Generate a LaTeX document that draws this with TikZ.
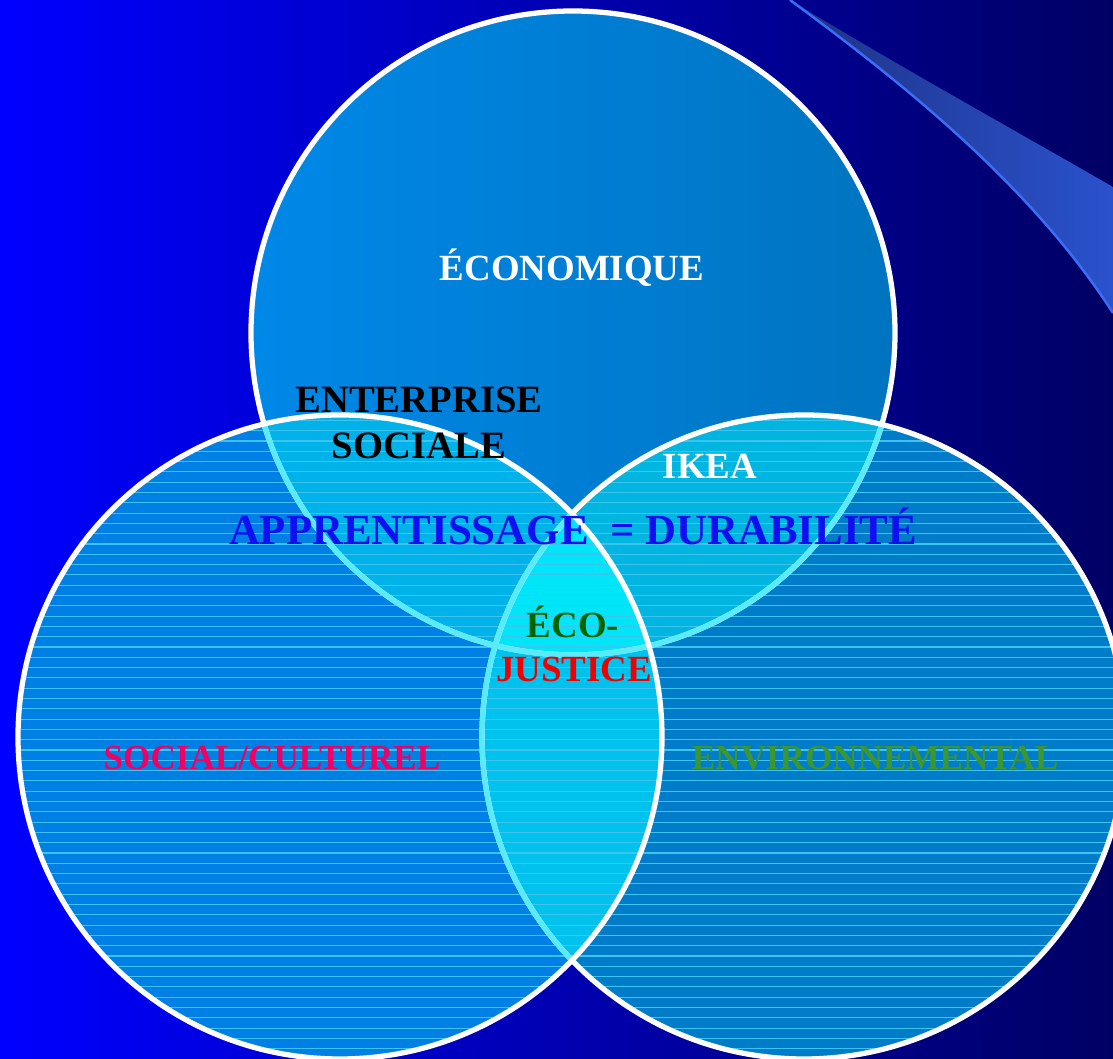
\documentclass[tikz,border=0pt]{standalone}
\usepackage{fontspec}
\setmainfont{Liberation Serif}
\definecolor{bgleft}{RGB}{0,0,255}
\definecolor{bgright}{RGB}{0,0,100}
\definecolor{swdark}{RGB}{30,50,135}
\definecolor{swlight}{RGB}{42,82,205}
\definecolor{swedge}{RGB}{60,110,245}
\definecolor{topl}{RGB}{0,136,232}
\definecolor{topr}{RGB}{0,116,192}
\definecolor{leftfill}{RGB}{0,128,228}
\definecolor{rightfill}{RGB}{0,124,200}
\definecolor{tlfill}{RGB}{0,178,234}
\definecolor{trfill}{RGB}{0,182,224}
\definecolor{lrfill}{RGB}{0,194,236}
\definecolor{midfill}{RGB}{0,230,248}
\definecolor{stripe}{RGB}{60,195,240}
\definecolor{coverline}{RGB}{90,235,250}
\definecolor{learnblue}{RGB}{15,15,240}
\definecolor{ecogreen}{RGB}{0,100,0}
\definecolor{justred}{RGB}{240,0,0}
\definecolor{socpink}{RGB}{240,0,100}
\definecolor{envgreen}{RGB}{60,150,50}
\tikzset{
  ring/.style={draw=white, line width=1.5pt},
  lbl/.style={font=\bfseries\fontsize{10.5}{12}\selectfont, inner sep=0pt, text height=0.66em, text depth=0pt}
}
\def\topcirc{(5.73,7.26) circle (3.22)}
\def\leftcirc{(3.40,3.22) circle (3.22)}
\def\rightcirc{(8.04,3.22) circle (3.22)}
\begin{document}
\begin{tikzpicture}
    \useasboundingbox (0,0) rectangle (11.13,10.59);
    \shade[left color=bgleft, right color=bgright] (0,0) rectangle (11.13,10.59);

    % swoosh
    \shade[left color=swdark, right color=swlight] (7.90,10.59) .. controls (9.0,9.78) and (10.3,8.75) .. (11.13,7.46) -- (11.13,8.72) .. controls (10.0,9.37) and (8.9,9.98) .. (7.90,10.59) -- cycle;
    \draw[swedge, line width=0.7pt] (7.90,10.59) .. controls (9.0,9.78) and (10.3,8.75) .. (11.13,7.46);

    % circles
    \shade[left color=topl, right color=topr] \topcirc;
    \fill[rightfill] \rightcirc;
    \fill[leftfill] \leftcirc;
    \begin{scope}
        \clip \topcirc;
        \fill[tlfill] \leftcirc;
        \fill[trfill] \rightcirc;
    \end{scope}
    \begin{scope}
        \clip \leftcirc;
        \fill[lrfill] \rightcirc;
        \clip \rightcirc;
        \fill[midfill] \topcirc;
    \end{scope}
    \begin{scope}
        \clip \leftcirc;
        \foreach \k in {0,...,64}
            \draw[stripe, line width=0.3pt] (0,\k*0.103) -- (11.13,\k*0.103);
    \end{scope}
    \begin{scope}
        \clip \rightcirc;
        \foreach \k in {0,...,64}
            \draw[stripe, line width=0.3pt] (0,\k*0.103) -- (11.13,\k*0.103);
    \end{scope}

    % borders
    \draw[ring] \topcirc;
    \begin{scope}
        \clip \rightcirc;
        \draw[ring, draw=coverline] \topcirc;
    \end{scope}
    \draw[ring] \rightcirc;
    \begin{scope}
        \clip \leftcirc;
        \draw[ring, draw=coverline] \topcirc;
        \draw[ring, draw=coverline] \rightcirc;
    \end{scope}
    \draw[ring] \leftcirc;

    % labels
    \node[lbl, text=white] (econ) at (5.72,7.90) {ÉCONOMIQUE};
    \node[lbl, text=black, font=\bfseries\fontsize{11}{12}\selectfont] (ent) at (4.19,6.58) {ENTERPRISE};
    \node[lbl, text=black, font=\bfseries\fontsize{11}{12}\selectfont] (soc) at (4.19,6.12) {SOCIALE};
    \node[lbl, text=white] (ikea) at (7.10,5.92) {IKEA};
    \node[lbl, text=learnblue, font=\bfseries\fontsize{12.2}{14}\selectfont] (learn) at (5.73,5.26) {APPRENTISSAGE\ \ = DURABILITÉ};
    \node[lbl, text=ecogreen] (eco) at (5.73,4.33) {ÉCO-};
    \node[lbl, text=justred] (just) at (5.74,3.89) {JUSTICE};
    \node[lbl, text=socpink, font=\bfseries\fontsize{10}{12}\selectfont] (cult) at (2.72,3.01) {SOCIAL/CULTUREL};
    \node[lbl, text=envgreen, font=\bfseries\fontsize{10}{12}\selectfont] (env) at (8.75,3.01) {ENVIRONNEMENTAL};
\end{tikzpicture}
\end{document}
